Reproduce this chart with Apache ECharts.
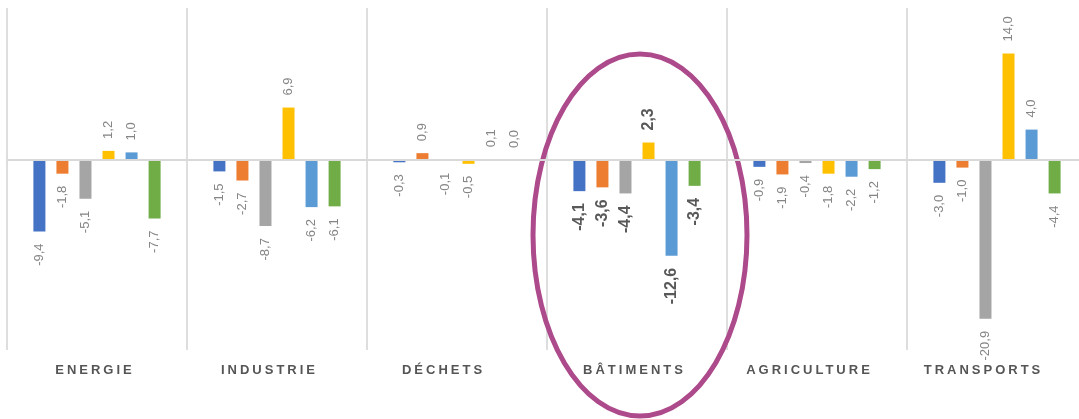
<!DOCTYPE html>
<html>
<head>
<meta charset="utf-8">
<script src="https://cdn.jsdelivr.net/npm/echarts@6/dist/echarts.min.js"></script>
<style>
  html, body { margin: 0; padding: 0; background: #fff; overflow: hidden; }
  /* the last column runs past the right edge of the window, as in the source */
  #chart { width: 1087px; height: 419px; }
</style>
</head>
<body>
<div id="chart"></div>
<script>
// data
var categories = ['ENERGIE', 'INDUSTRIE', 'DÉCHETS', 'BÂTIMENTS', 'AGRICULTURE', 'TRANSPORTS'];
var serie1 = [-9.4, -1.5, -0.3, -4.1, -0.9, -3.0];
var serie2 = [-1.8, -2.7, 0.9, -3.6, -1.9, -1.0];
var serie3 = [-5.1, -8.7, -0.1, -4.4, -0.4, -20.9];
var serie4 = [1.2, 6.9, -0.5, 2.3, -1.8, 14.0];
var serie5 = [1.0, -6.2, 0.1, -12.6, -2.2, 4.0];
var serie6 = [-7.7, -6.1, 0.0, -3.4, -1.2, -4.4];
var highlighted = 'BÂTIMENTS';

var colors = ['#4472C4', '#ED7D31', '#A5A5A5', '#FFC000', '#5B9BD5', '#70AD47'];
// right padding that nudges each category label to the left
var labelShift = [7, 18, 30, 8, 18, 30];

// wide letter spacing on the bold 13px category labels (canvas letterSpacing)
var nativeFillText = CanvasRenderingContext2D.prototype.fillText;
CanvasRenderingContext2D.prototype.fillText = function (text, x, y, maxWidth) {
  var spaced = this.font.indexOf('bold') >= 0 && this.font.indexOf('13px') >= 0;
  this.letterSpacing = spaced ? '3px' : '0px';
  if (spaced && this.textAlign === 'center') x += 1.5;
  if (maxWidth === undefined) return nativeFillText.call(this, text, x, y);
  return nativeFillText.call(this, text, x, y, maxWidth);
};

function fmt(v) {
  return v.toFixed(1).replace('.', ',');
}

function buildData(values) {
  return values.map(function (v, i) {
    var bold = categories[i] === highlighted;
    return {
      value: v,
      label: {
        position: v < 0 ? 'bottom' : 'top',
        align: v < 0 ? 'right' : 'left',
        fontSize: bold ? 16 : 13,
        fontWeight: bold ? 'bold' : 'normal',
        color: bold ? '#595959' : '#858585'
      }
    };
  });
}

var rich = {};
labelShift.forEach(function (p, i) {
  rich['c' + i] = {
    fontFamily: 'Liberation Sans',
    fontSize: 13,
    fontWeight: 'bold',
    color: '#555555',
    padding: [0, p, 0, 0]
  };
});

var myChart = echarts.init(document.getElementById('chart'));

var seriesList = [serie1, serie2, serie3, serie4, serie5, serie6].map(function (values, k) {
  var s = {
    name: 'Série ' + (k + 1),
    type: 'bar',
    barWidth: 12,
    barGap: '92%',
    itemStyle: { color: colors[k] },
    label: {
      show: true,
      rotate: 90,
      distance: 12,
      verticalAlign: 'middle',
      fontFamily: 'Liberation Sans',
      formatter: function (p) { return fmt(p.value); }
    },
    emphasis: { disabled: true },
    data: buildData(values)
  };
  if (k === 0) {
    s.markLine = {
      silent: true,
      symbol: 'none',
      label: { show: false },
      lineStyle: { color: '#d9d9d9', type: 'solid', width: 2 },
      data: [{ yAxis: 0 }]
    };
  }
  return s;
});

option = {
  animation: false,
  grid: {
    left: 7,
    top: 8,
    right: 0,
    height: 342
  },
  xAxis: {
    type: 'category',
    data: categories,
    axisLine: { show: false },
    axisTick: { show: false },
    splitLine: {
      show: true,
      lineStyle: { color: '#dedede', width: 2 }
    },
    axisLabel: {
      margin: 14,
      interval: 0,
      fontFamily: 'Liberation Sans',
      fontSize: 13,
      fontWeight: 'bold',
      color: '#555555',
      formatter: function (value, index) {
        return '{c' + index + '|' + value + '}';
      },
      rich: rich
    }
  },
  yAxis: {
    type: 'value',
    min: -25,
    max: 20,
    show: false,
    splitLine: { show: false }
  },
  series: seriesList
};

myChart.setOption(option);

// ellipse around the highlighted sector
var c = myChart.convertToPixel({ xAxisIndex: 0, yAxisIndex: 0 }, [highlighted, 0]);
myChart.setOption({
  graphic: [{
    type: 'ellipse',
    silent: true,
    shape: { cx: c[0] + 3, cy: c[1] + 75, rx: 107, ry: 181 },
    style: { fill: 'none', stroke: '#AD4A8B', lineWidth: 5 }
  }]
});
</script>
</body>
</html>
